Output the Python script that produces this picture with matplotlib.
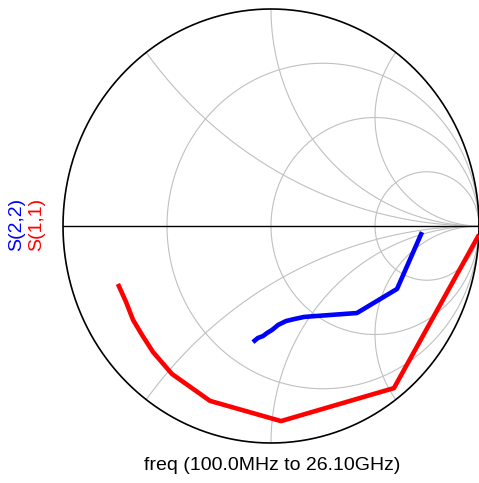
import numpy as np
import matplotlib.pyplot as plt

s11_re = [-0.736, -0.697, -0.663, -0.620, -0.567, -0.476, -0.293, 0.048, 0.591, 1.0]
s11_im = [-0.267, -0.350, -0.433, -0.502, -0.581, -0.682, -0.806, -0.899, -0.747, -0.04]

s22_re = [-0.087, -0.063, -0.038, -0.019, 0.005, 0.034, 0.072, 0.111, 0.159, 0.413, 0.606, 0.726]
s22_im = [-0.535, -0.516, -0.507, -0.493, -0.479, -0.456, -0.438, -0.429, -0.419, -0.401, -0.290, -0.028]

r_circles = [1/3, 1.0, 3.0]
x_arcs = [0.5, 1.0, 2.0, -0.5, -1.0, -2.0]

fig = plt.figure(figsize=(4.79, 4.83), dpi=100)
ax = fig.add_axes([63/479, 40/483, 416/479, 434/483])
ax.set_xlim(-1, 1)
ax.set_ylim(-1, 1)
ax.axis("off")

t = np.linspace(0, 2*np.pi, 721)
grid = "#c0c0c0"

# constant resistance circles
for r in r_circles:
    c = r/(1+r); rad = 1/(1+r)
    ax.plot(c + rad*np.cos(t), rad*np.sin(t), color=grid, lw=0.8)

# constant reactance arcs, clipped to the unit circle
for x in x_arcs:
    xx = 1 + np.cos(t)/abs(x)
    yy = 1/x + np.sin(t)/abs(x)
    inside = xx**2 + yy**2 <= 1.0001
    xx = np.where(inside, xx, np.nan)
    yy = np.where(inside, yy, np.nan)
    ax.plot(xx, yy, color=grid, lw=0.8)

ax.plot(np.cos(t), np.sin(t), color="black", lw=1.2, clip_on=False)
ax.plot([-1, 1], [0, 0], color="black", lw=1.0)

ax.plot(s11_re, s11_im, color="red", lw=3.3, solid_capstyle="butt", clip_on=False)
ax.plot(s22_re, s22_im, color="blue", lw=3.3, solid_capstyle="butt")

fig.text(272/479, 1 - 466/483, "freq (100.0MHz to 26.10GHz)", ha="center", va="center",
         fontsize=14, family="Liberation Sans")
fig.text(17/479, 1 - 224/483, "S(2,2)", color="blue", rotation=90, ha="center", va="center",
         fontsize=14, family="Liberation Sans")
fig.text(37/479, 1 - 224/483, "S(1,1)", color="red", rotation=90, ha="center", va="center",
         fontsize=14, family="Liberation Sans")

fig.savefig("out.png", dpi=100)
